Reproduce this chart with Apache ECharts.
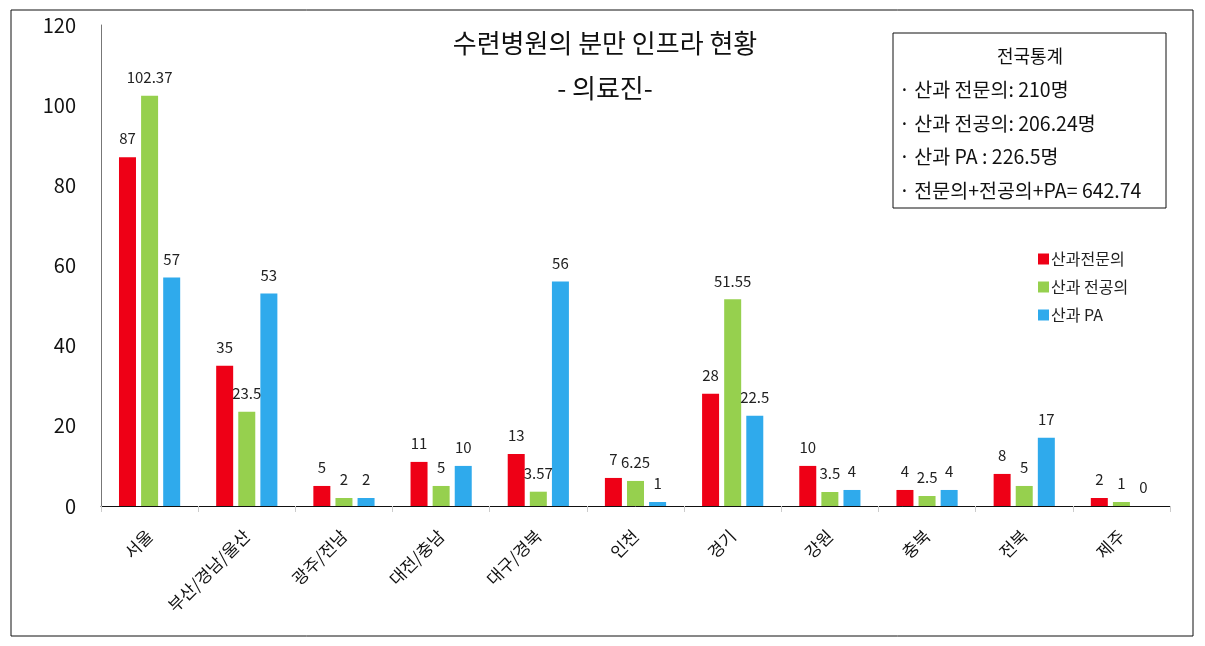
<!DOCTYPE html>
<html>
<head>
<meta charset="utf-8">
<script src="https://cdn.jsdelivr.net/npm/echarts@6/dist/echarts.min.js"></script>
<style>
  html, body { margin: 0; padding: 0; background: #fff; }
  #chart { width: 1205px; height: 646px; }
</style>
</head>
<body>
<div id="chart"></div>
<script>
const regions = ['서울', '부산/경남/울산', '광주/전남', '대전/충남', '대구/경북', '인천', '경기', '강원', '충북', '전북', '제주'];
const specialists = [87, 35, 5, 11, 13, 7, 28, 10, 4, 8, 2];
const residents = [102.37, 23.5, 2, 5, 3.57, 6.25, 51.55, 3.5, 2.5, 5, 1];
const paStaff = [57, 53, 2, 10, 56, 1, 22.5, 4, 4, 17, 0];
const seriesNames = ['산과전문의', '산과 전공의', '산과 PA'];
const statLines = [
  '· 산과 전문의: 210명',
  '· 산과 전공의: 206.24명',
  '· 산과 PA : 226.5명',
  '· 전문의+전공의+PA= 642.74',
];

const font = '"Noto Sans CJK KR", "Noto Sans", sans-serif';
const colors = ['#EE0016', '#96D04E', '#2FAAEC'];

const barSeries = (name, data, i) => ({
  name,
  type: 'bar',
  data,
  barWidth: 17,
  barGap: '30%',
  itemStyle: { color: colors[i] },
  label: {
    show: true,
    position: 'top',
    distance: 11,
    fontSize: 15,
    fontFamily: font,
    color: '#222',
  },
});

const chart = echarts.init(document.getElementById('chart'));
chart.setOption({
  animation: false,
  textStyle: { fontFamily: font },
  title: {
    text: '수련병원의 분만 인프라 현황\n- 의료진-',
    left: 600,
    top: 16,
    textAlign: 'center',
    textStyle: {
      fontSize: 26,
      fontWeight: 'normal',
      color: '#111',
      lineHeight: 45,
      fontFamily: font,
    },
  },
  legend: {
    orient: 'vertical',
    left: 1033,
    top: 246,
    itemWidth: 11,
    itemHeight: 11,
    itemGap: 12,
    icon: 'rect',
    data: seriesNames,
    textStyle: { fontSize: 16, color: '#222', fontFamily: font, padding: [0, 0, 0, -3] },
  },
  grid: {
    left: 101,
    right: 35,
    top: 25,
    bottom: 140,
    containLabel: false,
  },
  xAxis: {
    type: 'category',
    data: regions,
    axisLine: { show: true, lineStyle: { color: '#111', width: 1 } },
    axisTick: { show: true, length: 6, lineStyle: { color: '#ccc' } },
    axisLabel: {
      rotate: 45,
      fontSize: 17,
      color: '#111',
      margin: 27,
      fontFamily: font,
    },
  },
  yAxis: {
    type: 'value',
    min: 0,
    max: 120,
    interval: 20,
    axisLine: { show: true, lineStyle: { color: '#777' } },
    axisTick: { show: false },
    splitLine: { show: false },
    axisLabel: {
      fontSize: 20,
      color: '#111',
      margin: 25,
      fontFamily: font,
    },
  },
  graphic: [
    {
      type: 'rect',
      shape: { x: 11, y: 10, width: 1182, height: 626 },
      style: { fill: 'none', stroke: '#111', lineWidth: 1 },
      silent: true,
    },
    {
      type: 'rect',
      shape: { x: 893, y: 33, width: 273, height: 175 },
      style: { fill: '#fff', stroke: '#111', lineWidth: 1 },
      silent: true,
    },
    {
      type: 'text',
      x: 1030,
      y: 56,
      style: {
        text: '전국통계',
        fill: '#111',
        font: '18px ' + font,
        align: 'center',
        verticalAlign: 'middle',
      },
      silent: true,
    },
    ...statLines.map((t, i) => ({
      type: 'text',
      x: 899,
      y: 90 + i * 33.5,
      style: {
        text: t,
        fill: '#111',
        font: '19.5px ' + font,
        align: 'left',
        verticalAlign: 'middle',
      },
      silent: true,
    })),
  ],
  series: [
    barSeries(seriesNames[0], specialists, 0),
    barSeries(seriesNames[1], residents, 1),
    barSeries(seriesNames[2], paStaff, 2),
  ],
});
</script>
</body>
</html>
